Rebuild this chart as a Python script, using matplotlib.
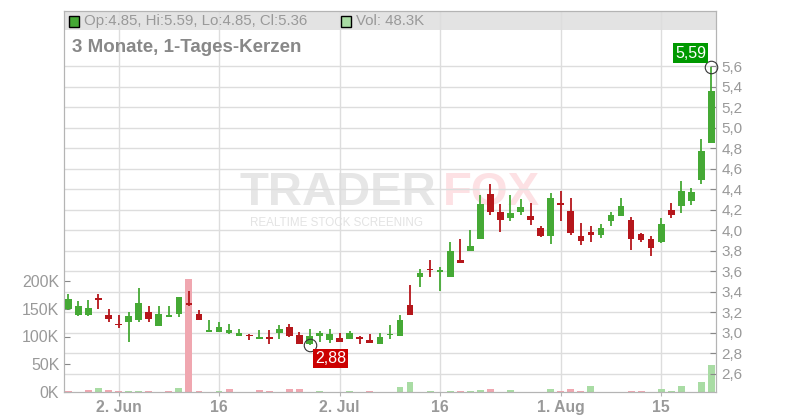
import matplotlib
matplotlib.use('Agg')
import matplotlib.pyplot as plt
import matplotlib.transforms as mtransforms
from matplotlib.patches import Rectangle
import numpy as np
import pandas as pd

plt.rcParams['font.family'] = ['Liberation Sans', 'DejaVu Sans']

# daily candles, 26 May - 22 Aug 2025 (trading days)
dates = pd.bdate_range('2025-05-26', '2025-08-22')
opens = [3.23, 3.17, 3.17, 3.34, 3.17, 3.085, 3.10, 3.12, 3.20, 3.06,
         3.155, 3.18, 3.285, 3.18, 3.005, 3.01, 3.00, 2.97, 2.975, 2.94,
         2.955, 3.00, 3.055, 2.975, 2.885, 2.97, 2.93, 2.945, 2.94, 2.96,
         2.925, 2.885, 2.975, 2.97, 3.265, 3.54, 3.62, 3.595, 3.54, 3.705,
         3.80, 3.915, 4.355, 4.175, 4.115, 4.18, 4.14, 4.02, 3.945, 4.265,
         4.19, 3.945, 3.98, 3.955, 4.085, 4.14, 4.10, 3.96, 3.915, 3.885,
         4.20, 4.23, 4.28, 4.485, 4.85]
highs = [3.38, 3.31, 3.32, 3.38, 3.23, 3.17, 3.20, 3.43, 3.26, 3.26,
         3.26, 3.35, 3.41, 3.22, 3.125, 3.10, 3.085, 3.03, 2.99, 3.025,
         3.02, 3.075, 3.085, 3.005, 3.035, 3.015, 3.035, 3.00, 3.015, 2.965,
         2.985, 3.00, 3.07, 3.17, 3.46, 3.62, 3.705, 3.64, 3.885, 3.91,
         4.00, 4.345, 4.45, 4.255, 4.345, 4.305, 4.265, 4.035, 4.365, 4.385,
         4.315, 4.07, 4.04, 4.06, 4.18, 4.315, 4.13, 3.975, 3.945, 4.12,
         4.265, 4.48, 4.415, 4.89, 5.59]
lows = [3.22, 3.16, 3.16, 3.23, 3.10, 3.04, 2.91, 3.10, 3.10, 3.06,
        3.15, 3.15, 3.255, 3.12, 3.005, 3.01, 2.99, 2.965, 2.93, 2.94,
        2.89, 2.94, 2.96, 2.885, 2.88, 2.91, 2.90, 2.91, 2.94, 2.885,
        2.895, 2.885, 2.94, 2.97, 3.17, 3.445, 3.545, 3.405, 3.54, 3.68,
        3.80, 3.915, 4.15, 3.985, 4.085, 4.15, 4.045, 3.935, 3.86, 4.085,
        3.955, 3.85, 3.88, 3.925, 4.035, 4.14, 3.81, 3.88, 3.75, 3.87,
        4.12, 4.17, 4.24, 4.445, 4.85]
closes = [3.33, 3.26, 3.24, 3.32, 3.13, 3.07, 3.16, 3.29, 3.13, 3.18,
          3.175, 3.35, 3.265, 3.12, 3.02, 3.055, 3.02, 2.995, 2.965, 2.955,
          2.94, 3.035, 2.97, 2.885, 2.965, 2.995, 2.985, 2.91, 2.995, 2.94,
          2.90, 2.96, 2.985, 3.125, 3.17, 3.58, 3.61, 3.61, 3.795, 3.68,
          3.845, 4.255, 4.18, 4.10, 4.17, 4.225, 4.095, 3.945, 4.315, 4.24,
          3.975, 3.895, 3.955, 4.02, 4.15, 4.235, 3.915, 3.905, 3.82, 4.06,
          4.15, 4.385, 4.375, 4.775, 5.36]
volumes_k = [1.8, 0.0, 3.6, 7.8, 3.6, 1.8, 1.8, 1.8, 1.8, 0.0,
             1.8, 7.8, 203.0, 1.8, 0.0, 1.8, 5.4, 0.0, 0.0, 3.6,
             1.8, 0.0, 5.4, 5.4, 0.0, 1.2, 0.0, 0.0, 1.2, 0.0,
             1.2, 0.0, 0.0, 9.6, 18.5, 0.0, 2.4, 0.0, 2.4, 2.4,
             2.4, 4.0, 6.0, 0.0, 4.2, 0.0, 0.0, 0.0, 6.0, 2.4,
             6.0, 2.4, 11.4, 0.0, 0.0, 0.0, 2.4, 2.4, 0.0, 6.0,
             2.4, 11.4, 0.0, 18.7, 48.3]
prev_close = 3.36

tick_dates = ['2025-06-02', '2025-06-16', '2025-07-02', '2025-07-16', '2025-08-01', '2025-08-15']
tick_labels = ['2. Jun', '16', '2. Jul', '16', '1. Aug', '15']
price_ticks = [2.6, 2.8, 3.0, 3.2, 3.4, 3.6, 3.8, 4.0, 4.2, 4.4, 4.6, 4.8, 5.0, 5.2, 5.4, 5.6]
vol_ticks = [0, 50, 100, 150, 200]

GREEN = '#45a935'
RED = '#b5161b'
VOL_GREEN = '#a9dca4'
VOL_RED = '#f0a7b0'
GRID = '#dddddd'
AXIS = '#b4b4b4'
TEXT = '#999999'

W, H = 800., 420.
L, R, B, T = 63.5, 716.0, 392.0, 11.0   # plot box in pixels


################################################################################
def px_axes(xp, yp) :
    """Pixel position (from top left) to axes fraction.
    """
    return (xp - L) / (R - L), 1 - (yp - T) / (B - T)


fig = plt.figure(figsize=(8, 4.2), dpi=100, facecolor='white')
axv = fig.add_axes([L / W, 1 - B / H, (R - L) / W, (B - T) / H])
ax = axv.twinx()

x = np.arange(len(dates))
o = np.array(opens)
c = np.array(closes)
last = np.concatenate([[prev_close], c[:-1]])

# volume bars
vol_colors = [VOL_GREEN if c[i] >= last[i] else VOL_RED for i in x]
axv.bar(x, volumes_k, width=0.68, color=vol_colors, linewidth=0, zorder=2)
axv.set_ylim(0, 200 * (B - T) / 111.0)
axv.set_xlim(-0.48, 64.45)
axv.set_facecolor('white')

# candles
cndl_colors = [GREEN if c[i] >= o[i] else RED for i in x]
ax.vlines(x, lows, highs, colors=cndl_colors, linewidth=1.3, zorder=3)
body = np.maximum(np.abs(c - o), 0.012)
ax.bar(x, body, bottom=np.minimum(o, c), width=0.66, color=cndl_colors,
       linewidth=0, zorder=4)
ax.set_ylim(2.42, 6.137)

# header band, grid
hx, hy = px_axes(L, 30)
axv.add_patch(Rectangle((0, hy), 1, 1 - hy, transform=axv.transAxes,
                        facecolor='#e3e3e3', edgecolor='none', zorder=0.3))
tick_pos = [dates.get_loc(pd.Timestamp(d)) for d in tick_dates]
for p in tick_pos :
    axv.axvline(p, color=GRID, linewidth=1, zorder=0.6)
blend = mtransforms.blended_transform_factory(axv.transAxes, ax.transData)
for p in price_ticks :
    axv.plot([0, 1], [p, p], transform=blend, color=GRID, linewidth=1, zorder=0.6)

# watermark
wx, wy = px_axes(240, 205)
axv.text(wx, wy, 'TRADER', transform=axv.transAxes, fontsize=34, fontweight='bold',
         color='#e6e6e6', va='baseline', ha='left', zorder=0.5)
wx, wy = px_axes(443, 205)
axv.text(wx, wy, 'FOX', transform=axv.transAxes, fontsize=34, fontweight='bold',
         color='#fde1e4', va='baseline', ha='left', zorder=0.5)
wx, wy = px_axes(250, 226)
axv.text(wx, wy, 'REALTIME STOCK SCREENING', transform=axv.transAxes, fontsize=8.4,
         color='#e3e3e3', va='baseline', ha='left', zorder=0.5)

# axes styling
for a in (axv, ax) :
    for s in a.spines.values() :
        s.set_color(AXIS)
axv.set_yticks(vol_ticks)
axv.set_yticklabels(['%dK' % v for v in vol_ticks])
axv.tick_params(axis='y', direction='in', length=4, color='#888888',
                labelcolor=TEXT, labelsize=11.5, pad=3)
ax.set_yticks(price_ticks)
ax.set_yticklabels([('%.1f' % p).replace('.', ',') for p in price_ticks])
ax.tick_params(axis='y', direction='in', length=4, color='#888888',
               labelcolor=TEXT, labelsize=11, pad=4)
axv.set_xticks(tick_pos)
axv.set_xticklabels(tick_labels, fontweight='bold')
axv.tick_params(axis='x', direction='out', length=3, color=AXIS,
                labelcolor=TEXT, labelsize=11.3, pad=3)

# header texts
sx, sy = px_axes(68.5, 26.5)
axv.add_patch(Rectangle((sx, sy), 10 / (R - L), 10 / (B - T), transform=axv.transAxes,
                        facecolor=GREEN, edgecolor='black', linewidth=1, zorder=5))
tx, ty = px_axes(84, 21)
axv.text(tx, ty, 'Op:4.85, Hi:5.59, Lo:4.85, Cl:5.36', transform=axv.transAxes,
         fontsize=10.8, color=TEXT, va='center', ha='left', zorder=5)
sx, sy = px_axes(340.5, 26.5)
axv.add_patch(Rectangle((sx, sy), 10 / (R - L), 10 / (B - T), transform=axv.transAxes,
                        facecolor=VOL_GREEN, edgecolor='black', linewidth=1, zorder=5))
tx, ty = px_axes(356, 21)
axv.text(tx, ty, 'Vol: 48.3K', transform=axv.transAxes,
         fontsize=10.8, color=TEXT, va='center', ha='left', zorder=5)
tx, ty = px_axes(72, 47)
axv.text(tx, ty, '3 Monate, 1-Tages-Kerzen', transform=axv.transAxes,
         fontsize=13.5, fontweight='bold', color='#888888', va='center', ha='left', zorder=5)

# high / low markers
i_hi = int(np.argmax(highs))
i_lo = int(np.argmin(lows))
ax.plot(i_hi, highs[i_hi], marker='o', ms=9, mfc='none', mec='#333333', mew=0.8,
        zorder=6, clip_on=False)
ax.annotate(('%.2f' % highs[i_hi]).replace('.', ','), xy=(i_hi, highs[i_hi]),
            xytext=(-15, 10), textcoords='offset points', ha='center', va='center',
            color='white', fontsize=11.5, zorder=7,
            bbox=dict(boxstyle='square,pad=0.14', fc='#009900', ec='none'))
ax.plot(i_lo, lows[i_lo], marker='o', ms=9, mfc='none', mec='#333333', mew=0.8,
        zorder=6, clip_on=False)
ax.annotate(('%.2f' % lows[i_lo]).replace('.', ','), xy=(i_lo, lows[i_lo]),
            xytext=(15, -10), textcoords='offset points', ha='center', va='center',
            color='white', fontsize=11.5, zorder=7,
            bbox=dict(boxstyle='square,pad=0.14', fc='#cc0000', ec='none'))

plt.savefig('out.png', dpi=100, facecolor='white')
